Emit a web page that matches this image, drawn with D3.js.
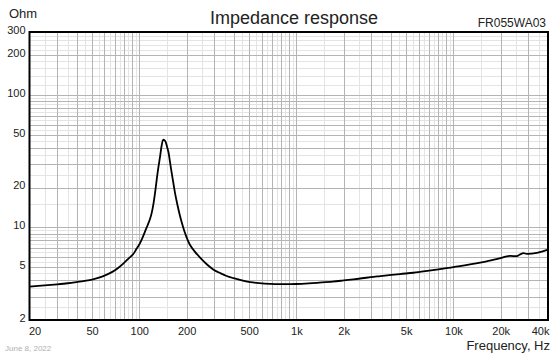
<!DOCTYPE html>
<html>
<head>
<meta charset="utf-8">
<script src="https://cdn.jsdelivr.net/npm/d3@7"></script>
<style>
html,body{margin:0;padding:0;background:#fff;}
svg{display:block;}
text{font-family:"Liberation Sans",Arial,sans-serif;}
</style>
</head>
<body>
<svg id="chart" width="560" height="356"></svg>
<script>
// ---- data ----
const freqHz = [20, 25, 30, 35, 40, 45, 50, 56, 60, 65, 70, 75, 80, 85, 91.6, 96, 101, 105, 109, 113, 117, 120, 123, 126, 129, 132, 135.6, 139, 142, 145, 147.5, 150, 153.4, 157, 161, 165, 169, 175, 182, 189, 196, 210, 225, 243, 270, 297, 330, 360, 398, 450, 508, 580, 680, 800, 1000, 1200, 1400, 1700, 2000, 2500, 3100, 3430, 4560, 5570, 7000, 9040, 11000, 14800, 17000, 19900, 21500, 23000, 25300, 26500, 27900, 29300, 31500, 34000, 37000, 40000];
const impedanceOhm = [3.57, 3.65, 3.72, 3.79, 3.87, 3.95, 4.04, 4.2, 4.33, 4.52, 4.75, 5.05, 5.4, 5.8, 6.3, 6.9, 7.6, 8.4, 9.4, 10.4, 11.6, 12.9, 15.0, 18.3, 22.8, 28, 34.3, 42, 46, 45.5, 44, 41, 37, 31, 25.6, 21.5, 18.1, 14.8, 12.1, 10.3, 9.0, 7.4, 6.6, 5.95, 5.25, 4.8, 4.5, 4.3, 4.14, 3.98, 3.87, 3.8, 3.75, 3.73, 3.74, 3.78, 3.83, 3.9, 3.98, 4.1, 4.24, 4.29, 4.45, 4.55, 4.72, 4.93, 5.1, 5.42, 5.62, 5.86, 6.02, 6.1, 6.08, 6.25, 6.4, 6.32, 6.35, 6.42, 6.6, 6.8];
const xTickValues = [20, 50, 100, 200, 500, 1000, 2000, 5000, 10000, 20000, 40000];
const xTickLabels = ["20", "50", "100", "200", "500", "1k", "2k", "5k", "10k", "20k", "40k"];
const yTickValues = [2, 5, 10, 20, 50, 100, 200, 300];
const yTickLabels = ["2", "5", "10", "20", "50", "100", "200", "300"];
const xDomain = [20, 40000];
const yDomain = [2, 300];
const titleText = "Impedance response";
const modelText = "FR055WA03";
const yUnitText = "Ohm";
const xUnitText = "Frequency, Hz";
const dateText = "June 8, 2022";

// ---- layout ----
const L = 29.5, R = 548, T = 32, B = 320;
const svg = d3.select("#chart");
const x = d3.scaleLog().domain(xDomain).range([L, R]);
const y = d3.scaleLog().domain(yDomain).range([B, T]);

// grid values
const xLight = [], xDark = [];
for (let dec = 10; dec <= 10000; dec *= 10) {
  for (let m = 1; m <= 9.5; m += 0.5) {
    const v = m * dec;
    if (v <= xDomain[0] || v >= xDomain[1]) continue;
    (Number.isInteger(m) ? xDark : xLight).push(v);
  }
}
const yLight = [], yDark = [];
for (let dec = 1; dec <= 10; dec *= 10) {
  for (let m = 1; m <= 9.5; m += 0.5) {
    const v = m * dec;
    if (v <= yDomain[0] || v >= yDomain[1]) continue;
    (Number.isInteger(m) ? yDark : yLight).push(v);
  }
}
yDark.push(100);
for (let v = 120; v < 300; v += 20) { (v === 200 ? yDark : yLight).push(v); }

const g = svg.append("g");
g.selectAll(".xl").data(xLight).join("line")
  .attr("x1", d => Math.round(x(d)) + 0.5).attr("x2", d => Math.round(x(d)) + 0.5)
  .attr("y1", T).attr("y2", B).attr("stroke", "#e4e4e4").attr("stroke-width", 1);
g.selectAll(".yl").data(yLight).join("line")
  .attr("y1", d => Math.round(y(d)) + 0.5).attr("y2", d => Math.round(y(d)) + 0.5)
  .attr("x1", L).attr("x2", R).attr("stroke", "#e4e4e4").attr("stroke-width", 1);
g.selectAll(".xd").data(xDark).join("line")
  .attr("x1", d => Math.round(x(d)) + 0.5).attr("x2", d => Math.round(x(d)) + 0.5)
  .attr("y1", T).attr("y2", B).attr("stroke", "#b4b4b4").attr("stroke-width", 1);
g.selectAll(".yd").data(yDark).join("line")
  .attr("y1", d => Math.round(y(d)) + 0.5).attr("y2", d => Math.round(y(d)) + 0.5)
  .attr("x1", L).attr("x2", R).attr("stroke", "#b4b4b4").attr("stroke-width", 1);

// curve
const pts = freqHz.map((f, i) => [f, impedanceOhm[i]]);
const line = d3.line().x(d => x(d[0])).y(d => y(d[1])).curve(d3.curveCatmullRom.alpha(0.5));
svg.append("path").datum(pts).attr("d", line)
  .attr("fill", "none").attr("stroke", "#000").attr("stroke-width", 1.8).attr("stroke-linejoin", "round");

// frame
svg.append("rect").attr("x", L).attr("y", T).attr("width", R - L).attr("height", B - T)
  .attr("fill", "none").attr("stroke", "#000").attr("stroke-width", 2);

// axes
const xAxis = d3.axisBottom(x).tickValues(xTickValues).tickFormat((d, i) => xTickLabels[i]).tickSize(0).tickPadding(6);
const xa = svg.append("g").attr("transform", `translate(0,${B})`).call(xAxis);
xa.select(".domain").remove();
xa.selectAll("text").attr("font-size", 11).attr("fill", "#222").attr("dy", "0.71em").attr("y", 7)
  .attr("font-family", "Liberation Sans, Arial, sans-serif")
  .attr("text-anchor", (d, i) => i === 0 ? "start" : (i === xTickValues.length - 1 ? "end" : "middle"))
  .attr("x", (d, i) => i === 0 ? -1 : (i === xTickValues.length - 1 ? 1 : 0));

const yAxis = d3.axisLeft(y).tickValues(yTickValues).tickFormat((d, i) => yTickLabels[i]).tickSize(0).tickPadding(4);
const ya = svg.append("g").attr("transform", `translate(${L},0)`).call(yAxis);
ya.select(".domain").remove();
ya.selectAll("text").attr("font-size", 11).attr("fill", "#222").attr("dy", "0.1em")
  .attr("font-family", "Liberation Sans, Arial, sans-serif");

// texts
svg.append("text").attr("x", 9).attr("y", 18).attr("font-size", 13).attr("fill", "#222").text(yUnitText);
svg.append("text").attr("x", 294).attr("y", 24).attr("text-anchor", "middle").attr("font-size", 18).attr("fill", "#222").text(titleText);
svg.append("text").attr("x", 546).attr("y", 27).attr("text-anchor", "end").attr("font-size", 12).attr("fill", "#222").text(modelText);
svg.append("text").attr("x", 550).attr("y", 350).attr("text-anchor", "end").attr("font-size", 13).attr("fill", "#222").text(xUnitText);
svg.append("text").attr("x", 5).attr("y", 351).attr("font-size", 8).attr("fill", "#b0b0b0")
  .attr("font-family", "Lato, sans-serif").text(dateText);
</script>
</body>
</html>
